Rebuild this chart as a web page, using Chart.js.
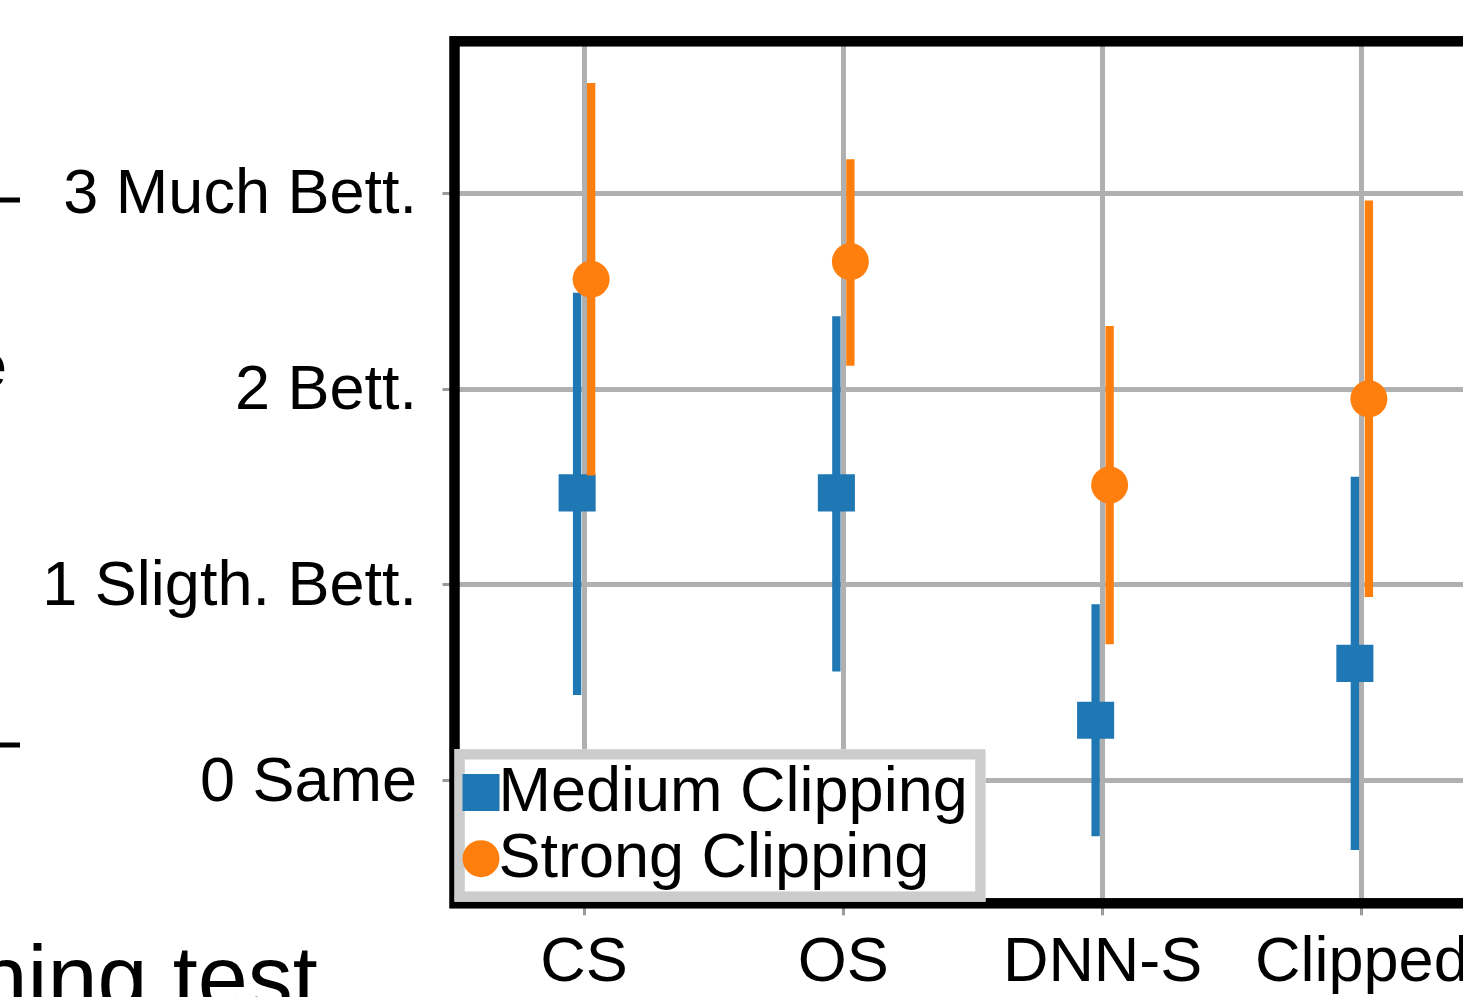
<!DOCTYPE html>
<html>
<head>
<meta charset="utf-8">
<title>Clipping comparison</title>
<script src="https://cdn.jsdelivr.net/npm/chart.js@4.4.1/dist/chart.umd.min.js"></script>
<style>
  html, body { margin: 0; padding: 0; background: #ffffff; overflow: hidden; }
  #wrap { position: absolute; left: 0; top: 0; width: 1560px; height: 997px; }
</style>
</head>
<body>
<div id="wrap"><canvas id="c" width="1560" height="997"></canvas></div>
<script>
// ---- data ----
const categories = ['CS', 'OS', 'DNN-S', 'Clipped'];
const seriesLabels = ['Medium Clipping', 'Strong Clipping'];

const mediumMean = [1.47, 1.47, 0.31, 0.60];
const mediumLow  = [0.44, 0.56, -0.28, -0.35];
const mediumHigh = [2.49, 2.37, 0.90, 1.55];

const strongMean = [2.56, 2.65, 1.51, 1.95];
const strongLow  = [1.56, 2.12, 0.70, 0.94];
const strongHigh = [3.56, 3.17, 2.32, 2.96];

const yTickValues = [0, 1, 2, 3];
const yTickLabels = ['0 Same', '1 Sligth. Bett.', '2 Bett.', '3 Much Bett.'];

// ---- style ----
const FONT = '"Liberation Sans", Arial, Helvetica, sans-serif';
const FONT_SIZE = 63;
const BLUE = '#1f77b4';
const ORANGE = '#ff7f0e';
const GRID = '#b0b0b0';
const TICK = '#9a9a9a';
const GROUP_SHIFT = 0.027;   // horizontal dodge of the two series, in category units

const toPoints = (vals) => vals.map((v, i) => ({ x: i, y: v }));
const toRanges = (lo, hi) => lo.map((v, i) => ({ x: i, y: [v, hi[i]] }));

// frame, in-axes legend and neighbouring panel remnants
const decorations = {
  id: 'decorations',
  afterDraw(chart) {
    const { ctx, chartArea: a } = chart;
    ctx.save();

    // axes frame
    ctx.strokeStyle = '#000';
    ctx.lineWidth = 10.5;
    ctx.strokeRect(a.left, a.top, a.right - a.left, a.bottom - a.top);

    // legend (lower left, drawn over the frame)
    const bw = 531, bh = 152.5, lw = 10.3;
    const bx = a.left, by = a.bottom - 1.6 - bh;
    ctx.fillStyle = '#ffffff';
    ctx.fillRect(bx, by, bw, bh);
    ctx.strokeStyle = '#cccccc';
    ctx.lineWidth = lw;
    ctx.strokeRect(bx + lw / 2, by + lw / 2, bw - lw, bh - lw);

    const markers = seriesLabels.map(l =>
      chart.data.datasets.find(d => d.type === 'line' && d.label === l));
    const rows = [43.3, 109.5];
    markers.forEach((d, k) => {
      const cx = bx + 26.5, cy = by + rows[k];
      ctx.fillStyle = d.pointBackgroundColor;
      if (d.pointStyle === 'rect') {
        ctx.fillRect(cx - 18.5, cy - 18.5, 37, 37);
      } else {
        ctx.beginPath();
        ctx.arc(cx, cy, 18.5, 0, Math.PI * 2);
        ctx.fill();
      }
      ctx.fillStyle = '#000';
      ctx.font = FONT_SIZE + 'px ' + FONT;
      ctx.textAlign = 'left';
      ctx.textBaseline = 'alphabetic';
      ctx.fillText(d.label, bx + 44, cy + 18.7);
    });

    // neighbouring panel: tick marks, label ends
    ctx.fillStyle = '#000';
    ctx.fillRect(0, 197.5, 20, 5);
    ctx.fillRect(0, 742.5, 20, 5);
    ctx.font = FONT_SIZE + 'px ' + FONT;
    ctx.textAlign = 'left';
    ctx.textBaseline = 'alphabetic';
    ctx.fillText('e', -28, 387);
    ctx.font = '90px ' + FONT;
    ctx.fillText('hing test', -22.5, 1009);

    ctx.restore();
  }
};

const chart = new Chart(document.getElementById('c'), {
  data: {
    labels: categories,
    datasets: [
      {
        type: 'line', label: seriesLabels[1], xAxisID: 'xs',
        data: toPoints(strongMean), showLine: false,
        pointStyle: 'circle', pointRadius: 18.5, pointBorderWidth: 0,
        pointBackgroundColor: ORANGE, order: 0
      },
      {
        type: 'bar', label: seriesLabels[1] + ' interval', xAxisID: 'xs',
        data: toRanges(strongLow, strongHigh), backgroundColor: ORANGE,
        barThickness: 7.7, grouped: false, borderWidth: 0, borderSkipped: false, order: 1
      },
      {
        type: 'line', label: seriesLabels[0], xAxisID: 'xm',
        data: toPoints(mediumMean), showLine: false,
        pointStyle: 'rect', pointRadius: 26.2, pointBorderWidth: 0,
        pointBackgroundColor: BLUE, order: 2
      },
      {
        type: 'bar', label: seriesLabels[0] + ' interval', xAxisID: 'xm',
        data: toRanges(mediumLow, mediumHigh), backgroundColor: BLUE,
        barThickness: 7.7, grouped: false, borderWidth: 0, borderSkipped: false, order: 3
      }
    ]
  },
  options: {
    responsive: false,
    animation: false,
    events: [],
    layout: { padding: { left: 0, top: 41.3, right: 68.5, bottom: 0 } },
    plugins: { legend: { display: false }, tooltip: { enabled: false } },
    scales: {
      x: {
        type: 'category', position: 'bottom', offset: true,
        grid: { offset: false, color: GRID, lineWidth: 5, drawTicks: true,
                tickLength: 12, tickWidth: 3, tickColor: TICK },
        border: { display: false },
        ticks: { color: '#000', font: { family: FONT, size: FONT_SIZE }, padding: 11,
                 autoSkip: false, maxRotation: 0, minRotation: 0 },
        afterFit(s) { s.height = 93.7; s.paddingLeft = 0; s.paddingRight = 0; }
      },
      xm: { type: 'linear', display: false, bounds: 'data', offset: false,
            grid: { offset: false },
            min: -0.5 + GROUP_SHIFT, max: 3.5 + GROUP_SHIFT },
      xs: { type: 'linear', display: false, bounds: 'data', offset: false,
            grid: { offset: false },
            min: -0.5 - GROUP_SHIFT, max: 3.5 - GROUP_SHIFT },
      y: {
        type: 'linear', position: 'left', bounds: 'data',
        min: -0.624, max: 3.774,
        afterBuildTicks(s) { s.ticks = yTickValues.map(v => ({ value: v })); },
        grid: { color: GRID, lineWidth: 5, drawTicks: true,
                tickLength: 12, tickWidth: 3, tickColor: TICK },
        border: { display: false },
        ticks: { color: '#000', font: { family: FONT, size: FONT_SIZE }, padding: 25.5,
                 labelOffset: 3, callback: (v, i) => yTickLabels[i] },
        afterFit(s) { s.width = 454.5; s.paddingTop = 0; s.paddingBottom = 0; }
      }
    }
  },
  plugins: [decorations]
});
</script>
</body>
</html>
